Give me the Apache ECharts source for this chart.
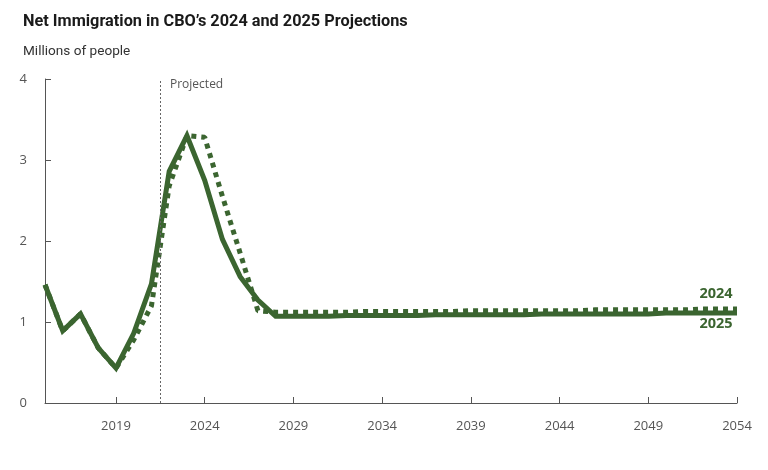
<!DOCTYPE html>
<html>
<head>
<meta charset="utf-8">
<script src="https://cdn.jsdelivr.net/npm/echarts@6/dist/echarts.min.js"></script>
<style>
html,body{margin:0;padding:0;background:#fff;}
#chart{width:768px;height:470px;}
</style>
</head>
<body>
<div id="chart"></div>
<script>
const years = [2015,2016,2017,2018,2019,2020,2021,2022,2023,2024,2025,2026,2027,2028,2029,2030,2031,2032,2033,2034,2035,2036,2037,2038,2039,2040,2041,2042,2043,2044,2045,2046,2047,2048,2049,2050,2051,2052,2053,2054];
const proj2025 = [1.46,0.89,1.10,0.68,0.43,0.86,1.47,2.86,3.30,2.75,2.02,1.56,1.27,1.07,1.07,1.07,1.07,1.08,1.08,1.08,1.08,1.08,1.09,1.09,1.09,1.09,1.09,1.09,1.10,1.10,1.10,1.10,1.10,1.10,1.10,1.11,1.11,1.11,1.11,1.11];
const proj2024 = [1.46,0.89,1.10,0.68,0.43,0.78,1.20,2.68,3.30,3.28,2.55,1.85,1.14,1.12,1.12,1.12,1.12,1.12,1.13,1.13,1.13,1.13,1.13,1.13,1.14,1.14,1.14,1.14,1.14,1.14,1.14,1.15,1.15,1.15,1.15,1.15,1.15,1.16,1.16,1.16];
const xTickLabels = [2019,2024,2029,2034,2039,2044,2049,2054];
const yTickLabels = [0,1,2,3,4];
const projectedStart = 2021.5;

const green = '#3b6530';
const chart = echarts.init(document.getElementById('chart'), null, {renderer:'canvas'});
const pairs = a => years.map((y,i)=>[y,a[i]]);

chart.setOption({
  animation:false,
  backgroundColor:'#fff',
  title:[
    {text:'Net Immigration in CBO\u2019s 2024 and 2025 Projections', left:18, top:9,
     textStyle:{fontFamily:'Roboto', fontWeight:'bold', fontSize:16.3, color:'#1a1a1a'}},
    {text:'Millions of people', left:18, top:40,
     textStyle:{fontFamily:'Roboto', fontWeight:'normal', fontSize:13.6, color:'#333'}}
  ],
  graphic:[
    {type:'text', left:170, top:79, style:{text:'Projected', font:'12px "Open Sans"', fill:'#555'}}
  ],
  grid:{left:45, right:31, top:79, bottom:67, containLabel:false},
  xAxis:{
    type:'value', min:2015, max:2054,
    axisLine:{show:true, lineStyle:{color:'#555', width:1}},
    axisTick:{show:true, inside:true, length:6, customValues:xTickLabels, lineStyle:{color:'#555'}},
    axisLabel:{show:true, customValues:xTickLabels, margin:17, color:'#555', fontFamily:'Open Sans', fontSize:13, formatter:v=>String(v)},
    splitLine:{show:false}
  },
  yAxis:{
    type:'value', min:0, max:4, interval:1,
    axisLine:{show:true, lineStyle:{color:'#555', width:1}},
    axisTick:{show:true, inside:true, length:6, lineStyle:{color:'#555'}},
    axisLabel:{show:true, margin:18, color:'#555', fontFamily:'Open Sans', fontSize:13,
      formatter:v=>yTickLabels.includes(v)?String(v):''},
    splitLine:{show:false}
  },
  series:[
    {
      name:'2024', type:'line', data:pairs(proj2024), symbol:'none', z:2,
      lineStyle:{color:green, width:5, type:[5,5], cap:'butt'},
      markLine:{
        silent:true, symbol:'none',
        lineStyle:{color:'#666', width:1, type:[2,2]},
        label:{show:false},
        data:[[{coord:[projectedStart,0]},{coord:[projectedStart,4]}]]
      },
      markPoint:{
        symbol:'circle', symbolSize:0,
        data:[{coord:[2054, proj2024[proj2024.length-1]]}],
        label:{show:true, position:'inside', offset:[-21,-15], formatter:'2024',
          fontFamily:'Open Sans', fontWeight:'bold', fontSize:14.5, color:green}
      }
    },
    {
      name:'2025', type:'line', data:pairs(proj2025), symbol:'none', z:3,
      lineStyle:{color:green, width:5, cap:'butt', join:'miter'},
      markPoint:{
        symbol:'circle', symbolSize:0,
        data:[{coord:[2054, proj2025[proj2025.length-1]]}],
        label:{show:true, position:'inside', offset:[-21,11], formatter:'2025',
          fontFamily:'Open Sans', fontWeight:'bold', fontSize:14.5, color:green}
      }
    }
  ]
});
</script>
</body>
</html>
